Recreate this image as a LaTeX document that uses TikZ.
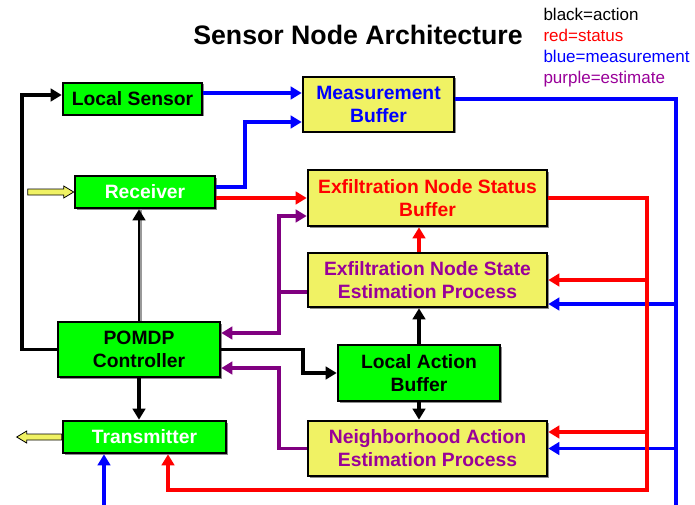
\documentclass[tikz,border=0pt]{standalone}
\usepackage{fontspec}
\setmainfont{Liberation Sans}
\usetikzlibrary{arrows.meta,shadows}
\definecolor{boxgreen}{RGB}{0,255,0}
\definecolor{boxyellow}{RGB}{240,242,100}
\definecolor{estline}{RGB}{128,0,128}
\definecolor{esttext}{RGB}{153,0,153}
\definecolor{measblue}{RGB}{0,0,255}
\definecolor{statred}{RGB}{255,0,0}
\definecolor{portyellow}{RGB}{240,242,100}

\begin{document}
\begin{tikzpicture}[x=1pt,y=-1pt,
  box/.style={draw=black, line width=2.6pt, inner sep=0pt, align=center,
    font=\fontsize{19.3}{23}\selectfont\bfseries,
    drop shadow={shadow xshift=1.5pt, shadow yshift=-1.5pt, fill=black!45, opacity=1}},
  gbox/.style={box, fill=boxgreen},
  ybox/.style={box, fill=boxyellow},
  wire/.style={line width=3.7pt, -{Triangle[length=11pt,width=12.5pt]}},
  act/.style={wire, draw=black},
  meas/.style={wire, draw=measblue},
  stat/.style={wire, draw=statred},
  est/.style={wire, draw=estline},
  plain/.style={arrows=-},
  port/.style={draw=black, line width=0.8pt, fill=portyellow},
  legend/.style={font=\fontsize{17}{20}\selectfont, anchor=base west}]

\useasboundingbox (0,0) rectangle (695,505);

% title and colour legend
\node[font=\fontsize{26.7}{30}\selectfont\bfseries, anchor=base] (title) at (358,45) {Sensor Node Architecture};
\node[legend, text=black] (lg1) at (540,21) {black=action};
\node[legend, text=statred] (lg2) at (540,42) {red=status};
\node[legend, text=measblue] (lg3) at (540,63) {blue=measurement};
\node[legend, text=esttext] (lg4) at (540,84) {purple=estimate};

% blocks
\node[gbox, minimum width=139pt, minimum height=32pt] (ls) at (132.5,99) {Local Sensor};
\node[gbox, minimum width=140pt, minimum height=32pt, text=white] (rx) at (145,192) {Receiver};
\node[ybox, minimum width=151pt, minimum height=55pt, text=measblue] (mb) at (378.5,104.5) {Measurement\\Buffer};
\node[ybox, minimum width=239pt, minimum height=56pt, text=statred] (ensb) at (427.5,198) {Exfiltration Node Status\\Buffer};
\node[ybox, minimum width=239pt, minimum height=54pt, text=esttext] (ensep) at (427.5,280) {Exfiltration Node State\\Estimation Process};
\node[gbox, minimum width=162pt, minimum height=56pt] (lab) at (419,373) {Local Action\\Buffer};
\node[ybox, minimum width=239pt, minimum height=55pt, text=esttext] (naep) at (427.5,448.5) {Neighborhood Action\\Estimation Process};
\node[gbox, minimum width=162pt, minimum height=55pt] (pomdp) at (139,349.5) {POMDP\\Controller};
\node[gbox, minimum width=163pt, minimum height=32pt, text=white] (tx) at (144.5,437) {Transmitter};

% bus coordinates
\coordinate (pv) at (279,292);
\coordinate (rv) at (647,490);
\coordinate (bv) at (676,505);
\coordinate (bin) at (104,505);

% radio ports
\draw[port] (rx.west) -- ++(-10,-6) -- ++(0,3) -- ++(-36,0) -- ++(0,6) -- ++(36,0) -- ++(0,3) -- cycle;
\draw[port] (tx.west) -- ++(0,3) -- ++(-35,0) -- ++(0,3) -- ++(-10,-6) -- ++(10,-6) -- ++(0,3) -- ++(35,0) -- cycle;

% measurement (blue)
\draw[meas] ([yshift=6pt]ls.east) -- ([yshift=6pt]ls.east -| mb.west);
\draw[meas] ([yshift=5pt]rx.east) -- ++(29,0) |- ([yshift=-17.5pt]mb.west);
\draw[meas, plain] ([yshift=5.5pt]mb.east) -| (bv);
\draw[meas] ([yshift=-24pt]ensep.east -| bv) -- ([yshift=-24pt]ensep.east);
\draw[meas] (naep.east -| bv) -- (naep.east);
\draw[meas] (bin) -- (bin |- tx.south);

% status (red)
\draw[stat] ([yshift=-6pt]rx.east) -- (ensb.west);
\draw[stat] (lab.north |- ensep.north) -- (lab.north |- ensb.south);
\draw[stat] (ensb.east) -| (rv) -| ([xshift=23.5pt]tx.south);
\draw[stat] (rv |- ensep.east) -- (ensep.east);
\draw[stat] ([yshift=16.5pt]naep.east -| rv) -- ([yshift=16.5pt]naep.east);

% estimates (purple)
\draw[est, {Triangle[length=11pt,width=12.5pt]}-{Triangle[length=11pt,width=12.5pt]}]
  ([yshift=16.5pt]pomdp.east) -| (pv) |- ([yshift=-18pt]ensb.west);
\draw[est, plain] ([yshift=-12pt]ensep.west) -- (pv);
\draw[est] (naep.west) -- ++(-28,0) |- ([yshift=-18.5pt]pomdp.east);

% actions (black)
\draw[act] (pomdp.west) -- ++(-35,0) |- ([yshift=4pt]ls.west);
\draw[black!40, line width=2pt] ([xshift=2.2pt]pomdp.north) -- ([xshift=2.2pt]pomdp.north |- rx.south);
\draw[act, line width=2.8pt] (pomdp.north) -- (pomdp.north |- rx.south);
\draw[act] (pomdp.east) -- ++(82,0) |- (lab.west);
\draw[act] (pomdp.south) -- (pomdp.south |- tx.north);
\draw[act] (lab.north) -- (lab.north |- ensep.south);
\draw[act] (lab.south) -- (lab.south |- naep.north);

\end{tikzpicture}
\end{document}
